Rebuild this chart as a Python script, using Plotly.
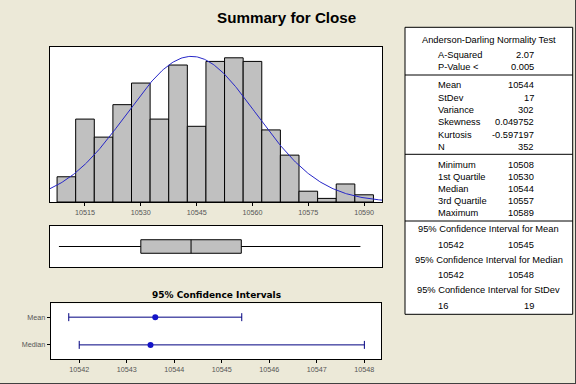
import numpy as np
import plotly.graph_objects as go

# ---------------- data ----------------
bin_centers = [10510, 10515, 10520, 10525, 10530, 10535, 10540, 10545, 10550,
               10555, 10560, 10565, 10570, 10575, 10580, 10585, 10590]
bin_counts = [7, 23, 18, 27, 33, 23, 38, 21, 39, 40, 39, 20, 13, 3, 1, 5, 2]
hist_ticks = [10515, 10530, 10545, 10560, 10575, 10590]

fit_mean = 10543.6
fit_sd = 17.38
n_obs = 352
bin_width = 5

box_min, box_q1, box_median, box_q3, box_max = 10508, 10530, 10543.5, 10557, 10589

ci_names = ["Mean", "Median"]
ci_center = [10543.6, 10543.5]
ci_lower = [10541.78, 10542.0]
ci_upper = [10545.42, 10548.0]
ci_ticks = [10542, 10543, 10544, 10545, 10546, 10547, 10548]

ad_title = "Anderson-Darling Normality Test"
ad_labels = ["A-Squared", "P-Value <"]
ad_values = ["2.07", "0.005"]
desc_labels = ["Mean", "StDev", "Variance", "Skewness", "Kurtosis", "N"]
desc_values = ["10544", "17", "302", "0.049752", "-0.597197", "352"]
quart_labels = ["Minimum", "1st Quartile", "Median", "3rd Quartile", "Maximum"]
quart_values = ["10508", "10530", "10544", "10557", "10589"]
ci_headers = ["95% Confidence Interval for Mean",
              "95% Confidence Interval for Median",
              "95% Confidence Interval for StDev"]
ci_low_txt = ["10542", "10542", "16"]
ci_high_txt = ["10545", "10548", "19"]

# ---------------- layout helpers ----------------
W, H = 576, 384
def px(x):
    return x / W
def py(y):
    return 1 - y / H

BG = "#ECE9D8"
GRAY_TXT = "#555555"
TFONT = "Liberation Sans, Arial, sans-serif"

fig = go.Figure()

# histogram
fig.add_trace(go.Bar(
    x=bin_centers, y=bin_counts, width=bin_width,
    marker=dict(color="#C0C0C0", line=dict(color="black", width=1)),
    xaxis="x", yaxis="y", showlegend=False, hoverinfo="skip"))

xr_hist = [10505.6, 10594.8]
xs = np.linspace(xr_hist[0], xr_hist[1], 300)
ys = n_obs * bin_width * np.exp(-0.5 * ((xs - fit_mean) / fit_sd) ** 2) / (fit_sd * np.sqrt(2 * np.pi))
fig.add_trace(go.Scatter(x=xs, y=ys, mode="lines",
                         line=dict(color="#2626C8", width=1),
                         xaxis="x", yaxis="y", showlegend=False, hoverinfo="skip"))

# boxplot
fig.add_trace(go.Box(
    y=[0], q1=[box_q1], median=[box_median], q3=[box_q3],
    lowerfence=[box_min], upperfence=[box_max],
    orientation="h", width=0.33, whiskerwidth=0,
    fillcolor="#C0C0C0", line=dict(color="black", width=1),
    boxpoints=False, xaxis="x2", yaxis="y2", showlegend=False, hoverinfo="skip"))

# confidence intervals
ci_y = [1, 0]
fig.add_trace(go.Scatter(
    x=ci_center, y=ci_y, mode="markers",
    marker=dict(color="#1414C8", size=6),
    error_x=dict(type="data", symmetric=False,
                 array=[u - c for u, c in zip(ci_upper, ci_center)],
                 arrayminus=[c - l for l, c in zip(ci_lower, ci_center)],
                 color="#000080", thickness=1, width=4),
    xaxis="x3", yaxis="y3", showlegend=False, hoverinfo="skip"))

axis_common = dict(showline=True, linecolor="black", linewidth=1, mirror=True,
                   showgrid=False, zeroline=False)

fig.update_layout(
    width=W, height=H,
    margin=dict(l=0, r=0, t=0, b=0),
    paper_bgcolor=BG, plot_bgcolor="white",
    bargap=0,
    xaxis=dict(domain=[px(50), px(382)], range=xr_hist, tickvals=hist_ticks,
               tickformat="d", ticks="outside", ticklen=3, tickcolor="black",
               tickfont=dict(family=TFONT, size=7.2, color=GRAY_TXT), anchor="y",
               **axis_common),
    yaxis=dict(domain=[py(202), py(47)], range=[0, 43], showticklabels=False,
               ticks="", anchor="x", **axis_common),
    xaxis2=dict(domain=[px(50), px(382)], range=xr_hist, showticklabels=False,
                ticks="", anchor="y2", **axis_common),
    yaxis2=dict(domain=[py(267), py(226)], range=[-0.5, 0.5], showticklabels=False,
                ticks="", anchor="x2", **axis_common),
    xaxis3=dict(domain=[px(50.7), px(381)], range=[10541.4, 10548.35], tickvals=ci_ticks,
                tickformat="d", ticks="outside", ticklen=3, tickcolor="black",
                tickfont=dict(family=TFONT, size=7.2, color=GRAY_TXT), anchor="y3",
                **axis_common),
    yaxis3=dict(domain=[py(359.3), py(303.3)], range=[-0.52, 1.5], tickvals=ci_y,
                ticktext=ci_names, ticks="outside", ticklen=3, tickcolor="black",
                tickfont=dict(family=TFONT, size=7.2, color=GRAY_TXT), anchor="x3",
                **axis_common),
)

annotations = []
def txt(x, y, s, anchor="center", size=9.3, family=TFONT, color="black"):
    annotations.append(dict(x=px(x), y=py(y), xref="paper", yref="paper", text=s,
                            showarrow=False, xanchor=anchor, yanchor="middle",
                            font=dict(family=family, size=size, color=color)))

# titles
txt(286.5, 17.7, "<b>Summary for Close</b>", size=15.2)
txt(216, 294.7, "<b>95% Confidence Intervals</b>", size=9,
    family="DejaVu Sans, Verdana, sans-serif")

# table
tab_l, tab_r, tab_t, tab_b = 405, 572.7, 27.3, 314.3
tab_c = (tab_l + tab_r) / 2
lab_x, val_x = 435.7, 536
shapes = [dict(type="rect", xref="paper", yref="paper",
               x0=px(tab_l), x1=px(tab_r), y0=py(tab_b), y1=py(tab_t),
               fillcolor="white", line=dict(color="black", width=1), layer="below")]
for ly in [75, 154.3, 221]:
    shapes.append(dict(type="line", xref="paper", yref="paper",
                       x0=px(tab_l), x1=px(tab_r), y0=py(ly), y1=py(ly),
                       line=dict(color="black", width=1)))
# window border
shapes.append(dict(type="line", xref="paper", yref="paper", x0=px(575.5), x1=px(575.5),
                   y0=0, y1=1, line=dict(color="#404040", width=1)))
shapes.append(dict(type="line", xref="paper", yref="paper", x0=0, x1=1,
                   y0=py(383.5), y1=py(383.5), line=dict(color="#404040", width=1)))

txt(tab_c, 40, ad_title)
for i, (l, v) in enumerate(zip(ad_labels, ad_values)):
    yy = 54.7 + i * 12.6
    txt(lab_x, yy, l, anchor="left")
    txt(val_x, yy, v, anchor="right")
for i, (l, v) in enumerate(zip(desc_labels, desc_values)):
    yy = 85.3 + i * 12.3
    txt(lab_x, yy, l, anchor="left")
    txt(val_x, yy, v, anchor="right")
for i, (l, v) in enumerate(zip(quart_labels, quart_values)):
    yy = 165 + i * 12.1
    txt(lab_x, yy, l, anchor="left")
    txt(val_x, yy, v, anchor="right")
for i, (h, lo, hi) in enumerate(zip(ci_headers, ci_low_txt, ci_high_txt)):
    yy = 229 + i * 30.5
    txt(tab_c, yy, h)
    txt(lab_x, yy + 15.5, lo, anchor="left")
    txt(val_x, yy + 15.5, hi, anchor="right")

fig.update_layout(annotations=annotations, shapes=shapes)

fig.write_html("out.html",
               config={"displayModeBar": False, "staticPlot": True},
               post_script="document.body.style.margin='0';document.body.style.padding='0';"
                           "document.body.style.overflow='hidden';")
